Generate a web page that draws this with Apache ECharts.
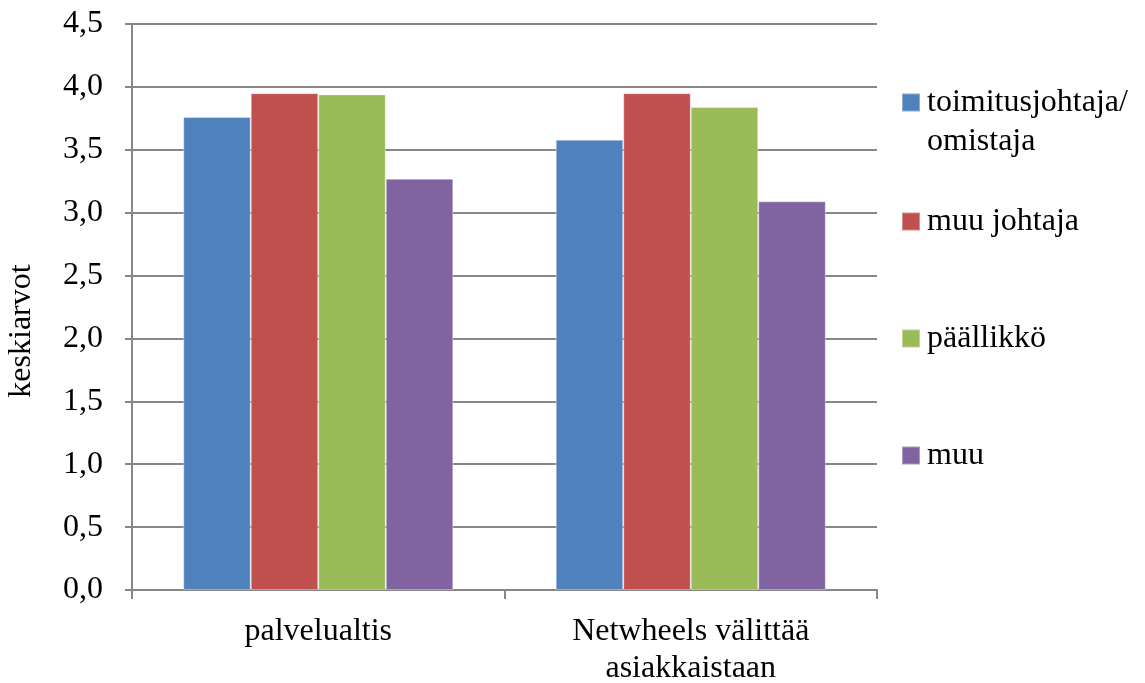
<!DOCTYPE html>
<html>
<head>
<meta charset="utf-8">
<script src="https://cdn.jsdelivr.net/npm/echarts@6/dist/echarts.min.js"></script>
<style>
  html, body { margin: 0; padding: 0; background: #fff; }
  #chart { width: 1145px; height: 683px; }
</style>
</head>
<body>
<div id="chart"></div>
<script>
// Categories and group means (keskiarvot)
const categories = ['palvelualtis', 'Netwheels välittää\nasiakkaistaan'];
const seriesNames = ['toimitusjohtaja/\nomistaja', 'muu johtaja', 'päällikkö', 'muu'];
const toimitusjohtaja = [3.76, 3.58];
const muuJohtaja = [3.95, 3.95];
const paallikko = [3.94, 3.84];
const muu = [3.27, 3.09];
const yTickLabels = ['0,0', '0,5', '1,0', '1,5', '2,0', '2,5', '3,0', '3,5', '4,0', '4,5'];

const colors = ['#4F81BD', '#C0504D', '#9BBB59', '#8064A2'];
const values = [toimitusjohtaja, muuJohtaja, paallikko, muu];
const FONT = '"Liberation Serif", "DejaVu Serif", serif';
const GRAY = '#878787';

const chart = echarts.init(document.getElementById('chart'));

// One legend block per series so each entry sits at its own height.
// The two-line entry gets a blank leading line so its marker lines up
// with the first line of text.
const legendTops = [44, 202, 319, 436];
const legends = seriesNames.map((name, i) => ({
  data: [name],
  orient: 'vertical',
  left: 901,
  top: legendTops[i],
  padding: 0,
  icon: 'rect',
  itemWidth: 18,
  itemHeight: 18,
  selectedMode: false,
  formatter: (n) => (n.indexOf('\n') >= 0 ? '\n' + n : n),
  textStyle: {
    fontFamily: FONT,
    fontSize: 32,
    color: '#000',
    lineHeight: 39,
    padding: [0, 0, 0, 2]
  }
}));

chart.setOption({
  animation: false,
  color: colors,
  legend: legends,
  grid: { left: 132, right: 268, top: 24, bottom: 93, containLabel: false, outerBoundsMode: 'none' },
  xAxis: {
    type: 'category',
    data: categories,
    axisLine: { show: true, lineStyle: { color: GRAY, width: 2 } },
    axisTick: { show: true, length: 9, lineStyle: { color: GRAY, width: 2 } },
    axisLabel: {
      fontFamily: FONT, fontSize: 32, color: '#000',
      lineHeight: 37, margin: 23
    }
  },
  yAxis: {
    type: 'value',
    min: 0, max: 4.5, interval: 0.5,
    name: 'keskiarvot',
    nameLocation: 'middle',
    nameGap: 94,
    nameTextStyle: { fontFamily: FONT, fontSize: 32, color: '#000', padding: [0, 48, 0, 0] },
    axisLine: { show: true, lineStyle: { color: GRAY, width: 2 } },
    axisTick: { show: true, length: 7, lineStyle: { color: GRAY, width: 2 } },
    splitLine: { show: true, lineStyle: { color: GRAY, width: 2 } },
    axisLabel: {
      fontFamily: FONT, fontSize: 32, color: '#000', margin: 29,
      formatter: (v) => yTickLabels[Math.round(v * 2)]
    }
  },
  series: seriesNames.map((name, i) => ({
    name,
    type: 'bar',
    data: values[i],
    barGap: '0%',
    barCategoryGap: '27.5%',
    itemStyle: { color: colors[i], borderColor: 'rgba(255,255,255,0.35)', borderWidth: 1 }
  }))
});
</script>
</body>
</html>
